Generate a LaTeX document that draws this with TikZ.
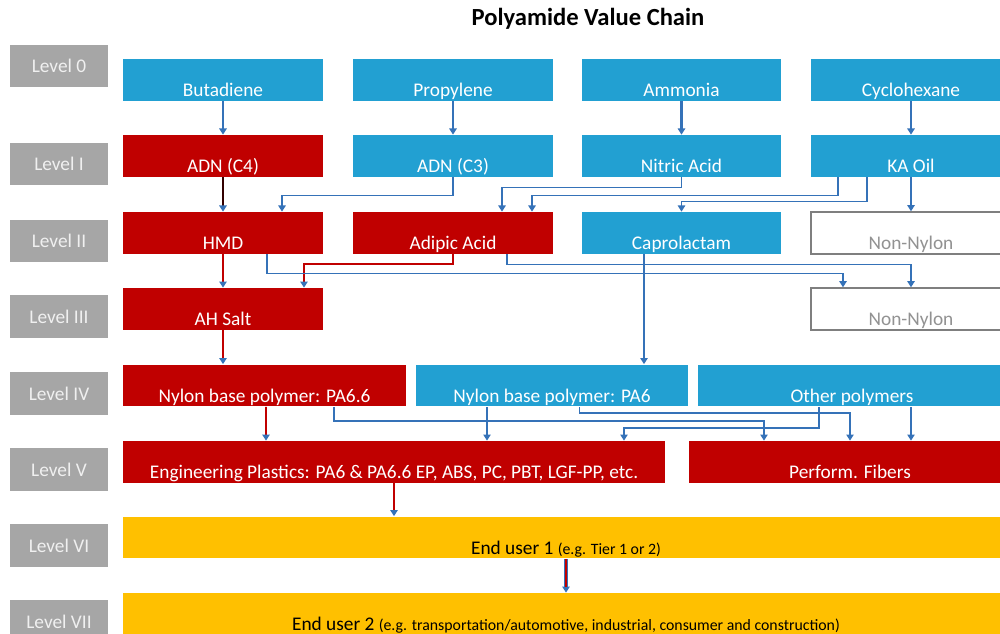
\documentclass[tikz,border=0pt]{standalone}
\usepackage{fontspec}
\setmainfont{Carlito}
\usetikzlibrary{arrows.meta,calc}
\definecolor{boxblue}{HTML}{22A0D2}
\definecolor{nylonred}{HTML}{C00000}
\definecolor{useryellow}{HTML}{FFC000}
\definecolor{levelgray}{HTML}{A6A6A6}
\definecolor{flowblue}{HTML}{3572B8}
\definecolor{nongray}{HTML}{7F7F7F}

\begin{document}
\begin{tikzpicture}[x=0.02cm, y=-0.02cm,
  every node/.style={inner sep=0pt, font=\fontsize{11}{13}\selectfont},
  lvl/.style={fill=levelgray, text=white!94!black, minimum width=1.96cm, minimum height=0.85cm},
  stage/.style={minimum height=0.84cm, minimum width=4cm, text=white, text height=19pt, text depth=0pt},
  blu/.style={stage, fill=boxblue},
  rd/.style={stage, fill=nylonred},
  nonny/.style={stage, fill=white, draw=nongray, line width=0.8pt, text=nongray!85!white},
  usr/.style={stage, fill=useryellow, text=black, minimum width=17.72cm},
  flow/.style={draw=flowblue, line width=0.8pt, -{Triangle[length=3.5pt,width=4.2pt]}},
  thick flow/.style={flow, line width=1.4pt},
  redflow/.style={draw=nylonred, line width=1.1pt, -{Triangle[length=3.5pt,width=4.2pt,color=flowblue]}},
]
\clip (0,0) rectangle (1000,634);
\node[font=\fontsize{14}{16}\selectfont\bfseries] (title) at (588,19) {Polyamide Value Chain};
\node[lvl] (L0) at (59,66) {Level 0};
\node[lvl] (L1) at (59,164) {Level I};
\node[lvl] (L2) at (59,241) {Level II};
\node[lvl] (L3) at (59,316.5) {Level III};
\node[lvl] (L4) at (59,393.5) {Level IV};
\node[lvl] (L5) at (59,469.5) {Level V};
\node[lvl] (L6) at (59,545.5) {Level VI};
\node[lvl] (L7) at (59,621.5) {Level VII};
\node[blu] (buta) at (223,80) {Butadiene};
\node[blu] (prop) at (453,80) {Propylene};
\node[blu] (ammo) at (681.5,80) {Ammonia};
\node[blu] (cyclo) at (911,80) {Cyclohexane};
\node[rd] (adn4) at (223,156) {ADN (C4)};
\node[blu] (adn3) at (453,156) {ADN (C3)};
\node[blu] (nitric) at (681.5,156) {Nitric Acid};
\node[blu] (kaoil) at (911,156) {KA Oil};
\node[rd] (hmd) at (223,233) {HMD};
\node[rd] (adipic) at (453,233) {Adipic Acid};
\node[blu] (capro) at (681.5,233) {Caprolactam};
\node[nonny] (nonA) at (911,233) {Non-Nylon};
\node[rd] (ahsalt) at (223,309) {AH Salt};
\node[nonny] (nonB) at (911,309) {Non-Nylon};
\node[rd, minimum width=5.66cm] (pa66) at (264.5,385.5) {Nylon base polymer: PA6.6};
\node[blu, minimum width=5.44cm] (pa6) at (552,385.5) {Nylon base polymer: PA6};
\node[blu, minimum width=6.16cm] (other) at (852,385.5) {Other polymers};
\node[rd, minimum width=10.84cm] (engpl) at (394,462) {Engineering Plastics: PA6 \& PA6.6 EP, ABS, PC, PBT, LGF-PP, etc.};
\node[rd, minimum width=6.44cm] (fibers) at (850,462) {Perform. Fibers};
\node[usr] (user1) at (566,537.5) {End user 1 {\fontsize{9}{11}\selectfont(e.g. Tier 1 or 2)}};
\node[usr] (user2) at (566,614) {End user 2 {\fontsize{9}{11}\selectfont(e.g. transportation/automotive, industrial, consumer and construction)}};
\draw[thick flow] (buta) -- (adn4);
\draw[thick flow] (prop) -- (adn3);
\draw[thick flow] (ammo) -- (nitric);
\draw[thick flow] (cyclo) -- (kaoil);
\draw[redflow, draw=red!20!black, line width=1.6pt] (adn4) -- (hmd);
\draw[flow] (adn3.south) -- ++(0,18) -| ($(hmd.north)+(59,0)$);
\draw[flow] (nitric.south) -- ++(0,10) -| ($(adipic.north)+(49,0)$);
\draw[flow] ($(kaoil.south)+(-73,0)$) -- ++(0,18) -| ($(adipic.north)+(79,0)$);
\draw[flow] ($(kaoil.south)+(-44,0)$) -- ++(0,24) -| (capro.north);
\draw[flow] (kaoil) -- (nonA);
\draw[redflow] (hmd) -- (ahsalt);
\draw[redflow] (adipic.south) -- ++(0,10) -| ($(ahsalt.north)+(81,0)$);
\draw[flow] ($(hmd.south)+(44,0)$) -- ++(0,19) -| ($(nonB.north)+(-68,0)$);
\draw[flow] ($(adipic.south)+(54,0)$) -- ++(0,10) -| (nonB.north);
\draw[thick flow] ($(capro.south)+(-37.5,0)$) -- ($(pa6.north)+(92,0)$);
\draw[redflow] (ahsalt.south) -- (ahsalt.south |- pa66.north);
\draw[redflow] ($(pa66.south)+(1.5,0)$) -- ($(engpl.north)+(-128,0)$);
\draw[flow] ($(pa66.south)+(69.5,0)$) -- ++(0,14) -| ($(fibers.north)+(-86,0)$);
\draw[flow] ($(pa6.south)+(-65,0)$) -- ($(engpl.north)+(93,0)$);
\draw[flow] ($(pa6.south)+(27.5,0)$) -- ++(0,6) -| (fibers.north);
\draw[flow] ($(other.south)+(-33,0)$) -- ++(0,21) -| ($(engpl.north)+(230,0)$);
\draw[flow] ($(other.south)+(59,0)$) -- ($(fibers.north)+(61,0)$);
\draw[redflow] (engpl.south) -- (engpl.south |- user1.north);
\draw[thick flow, line width=2.2pt] (user1) -- (user2);
\draw[draw=nylonred, line width=1pt, shorten >=3pt] (user1) -- (user2);
\end{tikzpicture}
\end{document}
